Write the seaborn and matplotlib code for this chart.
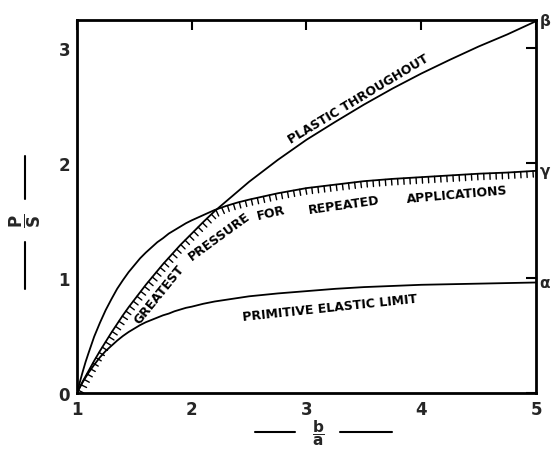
import numpy as np
import pandas as pd
import matplotlib
matplotlib.use("Agg")
import matplotlib.pyplot as plt
import matplotlib.patheffects as pe
from matplotlib.lines import Line2D
import seaborn as sns

# b/a ratio sampled along the curves
ratio = [1.0, 1.025, 1.05, 1.075, 1.1, 1.15, 1.2, 1.25, 1.3, 1.35, 1.4,
         1.45, 1.5, 1.55, 1.6, 1.65, 1.7, 1.75, 1.8, 1.85, 1.9, 1.95, 2.0,
         2.1, 2.2, 2.3, 2.4, 2.5, 2.75, 3.0, 3.25, 3.5, 3.75, 4.0, 4.25,
         4.5, 4.75, 5.0]

# P/S: cylinder plastic throughout (ends at beta)
plastic = [0.0, 0.05, 0.10, 0.145, 0.19, 0.28, 0.365, 0.445, 0.525, 0.60,
           0.675, 0.745, 0.81, 0.875, 0.94, 1.00, 1.06, 1.12, 1.175, 1.23,
           1.285, 1.335, 1.385, 1.485, 1.58, 1.665, 1.75, 1.835, 2.025,
           2.20, 2.355, 2.505, 2.645, 2.775, 2.895, 3.01, 3.115, 3.23]

# P/S: twice the primitive elastic limit (ends at gamma)
double_elastic = [0.0, 0.095, 0.185, 0.27, 0.345, 0.49, 0.61, 0.72, 0.815,
                  0.905, 0.98, 1.05, 1.11, 1.17, 1.22, 1.265, 1.31, 1.345,
                  1.385, 1.415, 1.445, 1.475, 1.50, 1.545, 1.59, 1.625,
                  1.655, 1.68, 1.735, 1.78, 1.81, 1.84, 1.86, 1.875, 1.89,
                  1.905, 1.915, 1.93]

# P/S: primitive elastic limit (ends at alpha)
elastic = [0.0, 0.05, 0.095, 0.135, 0.175, 0.245, 0.31, 0.365, 0.41, 0.455,
           0.495, 0.53, 0.56, 0.59, 0.615, 0.635, 0.655, 0.675, 0.69, 0.71,
           0.725, 0.74, 0.75, 0.775, 0.795, 0.81, 0.825, 0.84, 0.865, 0.885,
           0.905, 0.92, 0.93, 0.94, 0.945, 0.95, 0.955, 0.96]

x_ticks = [1, 2, 3, 4, 5]
y_ticks = [0, 1, 2, 3]
end_marks = ["β", "γ", "α"]

df = pd.DataFrame({"ratio": ratio, "plastic": plastic,
                   "double_elastic": double_elastic, "elastic": elastic})
# greatest pressure for repeated applications: the lower of the two envelopes
df["repeated"] = np.minimum(df["plastic"], df["double_elastic"])

sns.set_theme(style="white")
plt.rcParams["font.family"] = ["DejaVu Sans"]
plt.rcParams["mathtext.fontset"] = "dejavusans"

fig = plt.figure(figsize=(5.51, 4.52), dpi=100)
ax = fig.add_axes([0.1397, 0.1283, 0.8331, 0.8252])

line_kw = dict(color="black", linewidth=1.3, ax=ax, legend=False)
sns.lineplot(data=df, x="ratio", y="plastic", **line_kw)
sns.lineplot(data=df, x="ratio", y="double_elastic", **line_kw)
sns.lineplot(data=df, x="ratio", y="elastic", **line_kw)
sns.lineplot(data=df, x="ratio", y="repeated", **line_kw)
ax.lines[-1].set_path_effects(
    [pe.TickedStroke(angle=-90, spacing=4.4, length=1.0, linewidth=1.0)])

ax.set_xlim(1, 5)
ax.set_ylim(0, 3.24)
ax.set_xticks(x_ticks)
ax.set_yticks(y_ticks)
ax.set_xticklabels([str(v) for v in x_ticks])
ax.set_yticklabels([str(v) for v in y_ticks])
ax.set_xlabel("")
ax.set_ylabel("")
ax.tick_params(direction="in", length=7, width=1.5, color="black",
               top=True, right=True, labeltop=False, labelright=False,
               labelsize=12, pad=5)
for lab in ax.get_xticklabels() + ax.get_yticklabels():
    lab.set_fontweight("bold")
for sp in ax.spines.values():
    sp.set_visible(True)
    sp.set_color("black")
    sp.set_linewidth(2.0)

# curve captions
cap = dict(fontsize=9, fontweight="bold", ha="center", va="center",
           rotation_mode="anchor", color="black")
ax.text(3.45, 2.56, "PLASTIC THROUGHOUT", rotation=31, **cap)
ax.text(1.72, 0.86, "GREATEST", rotation=51, **cap)
ax.text(2.24, 1.37, "PRESSURE", rotation=36, **cap)
ax.text(2.69, 1.565, "FOR", rotation=13, **cap)
ax.text(3.33, 1.64, "REPEATED", rotation=8, **cap)
ax.text(4.31, 1.73, "APPLICATIONS", rotation=5, **cap)
ax.text(3.205, 0.74, "PRIMITIVE ELASTIC LIMIT", rotation=6, **cap)

# letters at the right-hand ends of the curves
for mark, yv in zip(end_marks, [3.24, 1.93, 0.96]):
    ax.text(5.03, yv, mark, fontsize=11, fontweight="bold", ha="left",
            va="center", clip_on=False)

# axis titles as stacked fractions between rules
W, H = 551, 452
fig.text(25 / W, 1 - 221 / H, r"$\mathbf{\dfrac{P}{S}}$", rotation=90,
         ha="center", va="center", fontsize=12)
for y0, y1 in [(157, 200), (243, 290)]:
    fig.add_artist(Line2D([25 / W, 25 / W], [1 - y0 / H, 1 - y1 / H],
                          transform=fig.transFigure, color="black", lw=1.5))
fig.text(318 / W, 1 - 433 / H, r"$\mathbf{\dfrac{b}{a}}$",
         ha="center", va="center", fontsize=11)
for x0, x1 in [(255, 295), (340, 392)]:
    fig.add_artist(Line2D([x0 / W, x1 / W], [1 - 433 / H, 1 - 433 / H],
                          transform=fig.transFigure, color="black", lw=1.5))

fig.savefig("out.png", dpi=100, facecolor="white")
